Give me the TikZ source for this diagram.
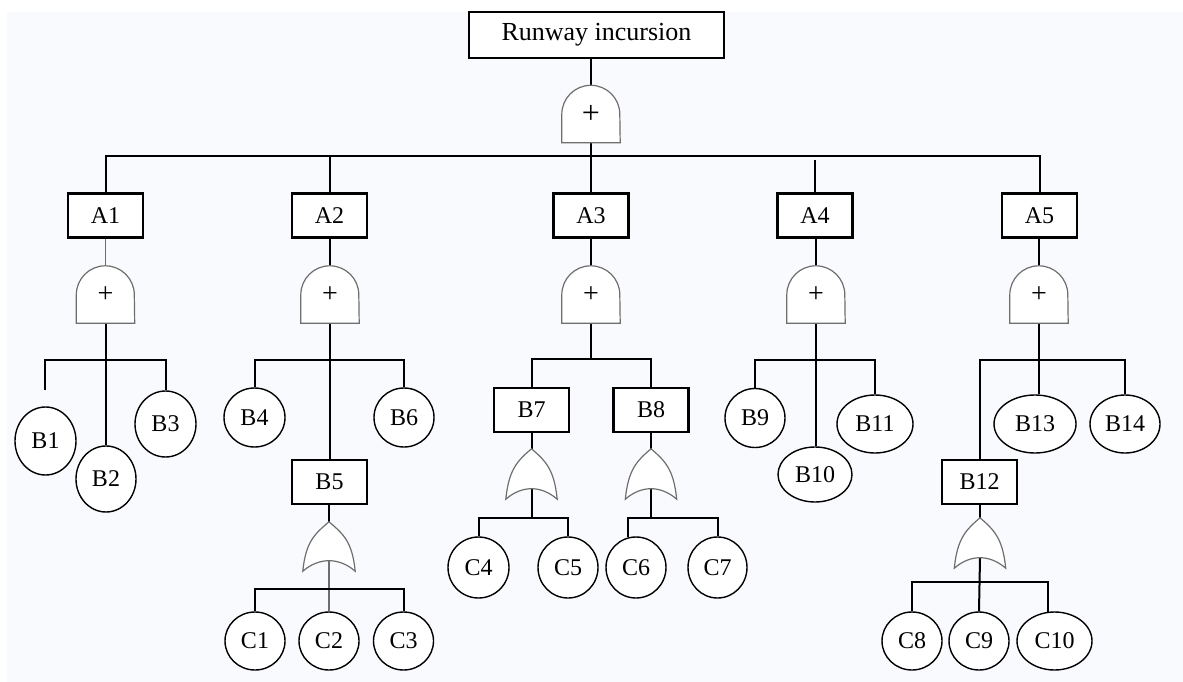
\documentclass[tikz,border=0pt]{standalone}
\usepackage{fontspec}
\setmainfont{Liberation Serif}
\usetikzlibrary{shapes.geometric,calc}
\definecolor{paper}{RGB}{249,250,253}
\definecolor{gategray}{RGB}{110,110,110}

% outline of an AND gate inside its slot node
\newcommand\drawandgate[1]{%
  \path[gateline] (#1.south west) -- ($(#1.north west)+(0,29)$)
    arc[start angle=180, delta angle=180, radius=29] -- (#1.south east) -- cycle;}
% outline of an OR gate inside its slot node
\newcommand\draworgate[1]{%
  \path[gateline] (#1.south west)
    .. controls ($(#1.south west)+(3,-30)$) and ($(#1.north)+(-14,12)$) .. (#1.north)
    .. controls ($(#1.north)+(14,12)$) and ($(#1.south east)+(-3,-30)$) .. (#1.south east)
    .. controls ($(#1.south east)+(-16,-14)$) and ($(#1.south west)+(16,-14)$) .. (#1.south west)
    -- cycle;}

\begin{document}
\begin{tikzpicture}[x=1pt,y=-1pt,
  wire/.style={line width=2pt, black},
  thinwire/.style={line width=1.3pt, gategray},
  evtbox/.style={rectangle, draw, line width=2.2pt, fill=white,
    minimum width=75pt, minimum height=44pt, inner sep=0pt,
    font=\fontsize{24}{24}\selectfont},
  basic/.style={ellipse, draw, line width=1.4pt, fill=white, inner sep=0pt,
    font=\fontsize{24}{24}\selectfont},
  andslot/.style={rectangle, inner sep=0pt, minimum width=58pt, minimum height=57pt},
  orslot/.style={rectangle, inner sep=0pt, minimum width=52pt, minimum height=49pt},
  gateline/.style={draw=gategray, fill=white, line width=1.2pt},
  plussign/.style={inner sep=0pt, font=\fontsize{28}{28}\selectfont},
]
% canvas
\useasboundingbox (0,0) rectangle (1183,682);
\fill[white] (0,0) rectangle (1183,682);
\fill[paper] (7,12) rectangle (1183,682);

% ---------- top event ----------
\node[evtbox, minimum width=255pt, minimum height=46pt,
      font=\fontsize{26}{26}\selectfont] (top) at (596.5,35) {Runway incursion};
\node[andslot] (g0) at (591,114) {};

% ---------- intermediate events ----------
\node[evtbox] (A1) at (105.5,215.5) {A1};
\node[evtbox] (A2) at (329.5,215.5) {A2};
\node[evtbox] (A3) at (591,215.5) {A3};
\node[evtbox] (A4) at (815,215.5) {A4};
\node[evtbox] (A5) at (1039.5,215.5) {A5};

\node[andslot] (g1) at (105.5,294.5) {};
\node[andslot] (g2) at (330,294.5) {};
\node[andslot] (g3) at (591,294.5) {};
\node[andslot] (g4) at (816,294.5) {};
\node[andslot] (g5) at (1039,294.5) {};

% ---------- A1 branch ----------
\node[basic, minimum width=61pt, minimum height=68pt] (B1) at (45.5,441) {B1};
\node[basic, minimum width=60pt, minimum height=66pt] (B2) at (106,479) {B2};
\node[basic, minimum width=61pt, minimum height=66pt] (B3) at (165.5,424) {B3};

% ---------- A2 branch ----------
\node[basic, minimum width=61pt, minimum height=59pt] (B4) at (254.5,417.5) {B4};
\node[basic, minimum width=60pt, minimum height=59pt] (B6) at (404,417.5) {B6};
\node[evtbox] (B5) at (329.5,482) {B5};
\node[orslot] (o1) at (329,546.5) {};
\node[basic, minimum width=60pt, minimum height=58pt] (C1) at (255,641) {C1};
\node[basic, minimum width=60pt, minimum height=58pt] (C2) at (329,641) {C2};
\node[basic, minimum width=60pt, minimum height=58pt] (C3) at (403.5,641) {C3};

% ---------- A3 branch ----------
\node[evtbox] (B7) at (531.5,410) {B7};
\node[evtbox] (B8) at (651,410) {B8};
\node[orslot, minimum width=51pt, minimum height=50pt] (o2) at (531.5,474) {};
\node[orslot, minimum width=51pt, minimum height=50pt] (o3) at (651,474) {};
\node[basic, minimum width=61pt, minimum height=61pt] (C4) at (478.5,567.5) {C4};
\node[basic, minimum width=60pt, minimum height=61pt] (C5) at (568,567.5) {C5};
\node[basic, minimum width=60pt, minimum height=61pt] (C6) at (636,567.5) {C6};
\node[basic, minimum width=59pt, minimum height=61pt] (C7) at (717.5,567.5) {C7};

% ---------- A4 branch ----------
\node[basic, minimum width=60pt, minimum height=59pt] (B9) at (755,418) {B9};
\node[basic, minimum width=74pt, minimum height=55pt] (B10) at (815,474.5) {B10};
\node[basic, minimum width=76pt, minimum height=58pt] (B11) at (875,424) {B11};

% ---------- A5 branch ----------
\node[evtbox] (B12) at (979.5,482) {B12};
\node[basic, minimum width=82pt, minimum height=58pt] (B13) at (1035,424) {B13};
\node[basic, minimum width=70pt, minimum height=58pt] (B14) at (1125,424) {B14};
\node[orslot, minimum width=51pt, minimum height=50pt] (o4) at (980,543) {};
\node[basic, minimum width=60pt, minimum height=58pt] (C8) at (912,641) {C8};
\node[basic, minimum width=60pt, minimum height=58pt] (C9) at (979,641) {C9};
\node[basic, minimum width=75pt, minimum height=58pt] (C10) at (1054.5,641) {C10};

% ---------- junctions, gate outputs and free ends ----------
\coordinate (bus0) at (591,156);
\coordinate (j1) at (105.5,360);
\coordinate (k1) at (45,390);
\coordinate (j2) at (330,360);
\coordinate (jc1) at (329,589);
\coordinate (j3) at (591,359);
\coordinate (jc2) at (531.5,518);
\coordinate (jc3) at (651,518);
\coordinate (j4) at (816,360);
\coordinate (j5) at (1039,360);
\coordinate (jc4) at (980,582);
\coordinate (o1out) at ($(o1.south)+(0,-10)$);
\coordinate (o2out) at ($(o2.south)+(0,-10)$);
\coordinate (o3out) at ($(o3.south)+(0,-10)$);
\coordinate (o4out) at ($(o4.south)+(0,-10)$);

% ---------- connectors ----------
% top level
\draw[wire] (g0.north |- top.south) -- (g0.north);
\draw[wire] (g0.south) -- (A3.north);
\draw[wire] (A1.north) |- (bus0) -| (A5.north);
\draw[wire] (A2.north) -- (A2.north |- bus0);
\draw[wire, shorten >=4pt] (A4.north) -- (A4.north |- bus0);

% A gates
\draw[thinwire] (g1.north |- A1.south) -- (g1.north);
\draw[wire] (g2.north |- A2.south) -- (g2.north);
\draw[wire] (A3.south) -- (g3.north);
\draw[wire] (g4.north |- A4.south) -- (g4.north);
\draw[wire] (g5.north |- A5.south) -- (g5.north);

% A1 branch
\draw[wire] (g1.south) -- (g1.south |- B2.north);
\draw[wire] (k1) |- (j1) -| (B3.north);

% A2 branch
\draw[wire] (g2.south) -- (g2.south |- B5.north);
\draw[wire] (B4.north) |- (j2) -| (B6.north);
\draw[wire] (o1.north |- B5.south) -- (o1.north);
\draw[thinwire] (o1out) -- (C2.north);
\draw[wire] (C1.north) |- (jc1) -| (C3.north);

% A3 branch
\draw[wire] (g3.south) -- (j3);
\draw[wire] (B7.north) |- (j3) -| (B8.north);
\draw[wire] (B7.south) -- (o2.north);
\draw[wire] (B8.south) -- (o3.north);
\draw[wire] (o2out) -- (jc2);
\draw[wire] (C4.north) |- (jc2) -| (C5.north);
\draw[wire] (o3out) -- (jc3);
\draw[wire] (C6.105) |- (jc3) -| (C7.north);

% A4 branch
\draw[wire] (g4.south) -- (g4.south |- B10.north);
\draw[wire] (B9.north) |- (j4) -| (B11.north);

% A5 branch
\draw[wire] (g5.south) -- (g5.south |- B13.north);
\draw[wire] (B12.north) |- (j5) -| (B14.north);
\draw[wire] (o4.north |- B12.south) -- (o4.north);
\draw[wire] (o4out) -- (C9.north);
\draw[wire] (C8.north) |- (jc4) -| (C10.102);

% ---------- gate symbols ----------
\drawandgate{g0}
\drawandgate{g1}
\drawandgate{g2}
\drawandgate{g3}
\drawandgate{g4}
\drawandgate{g5}
\draworgate{o1}
\draworgate{o2}
\draworgate{o3}
\draworgate{o4}

\node[plussign, font=\fontsize{32}{32}\selectfont] (p0) at (g0) {+};
\node[plussign] (p1) at (g1) {+};
\node[plussign] (p2) at (g2) {+};
\node[plussign] (p3) at (g3) {+};
\node[plussign] (p4) at (g4) {+};
\node[plussign] (p5) at (g5) {+};
\end{tikzpicture}
\end{document}
